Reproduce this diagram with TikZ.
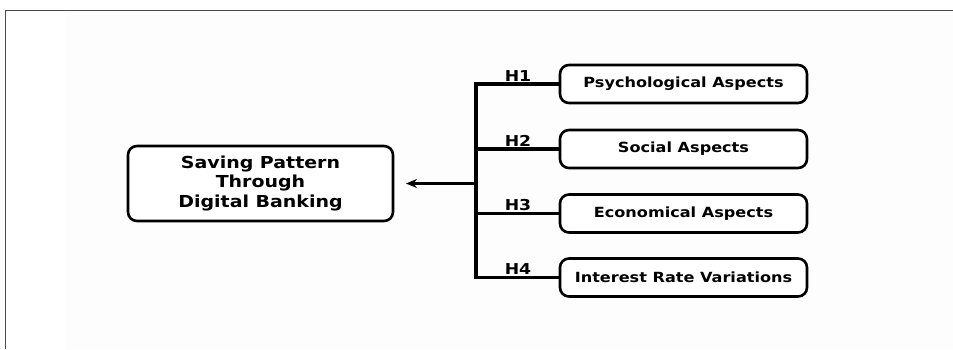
\documentclass[tikz,border=0pt]{standalone}
\usepackage{fontspec}
\setmainfont{DejaVu Sans}
\newfontfamily\widefont[FakeStretch=1.15]{DejaVu Sans}
\usetikzlibrary{arrows.meta}
\tikzset{
  box/.style={draw=black, line width=2.6pt, rounded corners=9pt, fill=white, align=center, inner sep=0pt},
  smallbox/.style={box, minimum width=247pt, minimum height=38pt, font=\widefont\bfseries\fontsize{14}{16}\selectfont},
  conn/.style={line width=3.2pt, black},
  hlab/.style={font=\widefont\bfseries\fontsize{15}{16}\selectfont, anchor=base}
}
\begin{document}
\begin{tikzpicture}[x=1pt,y=-1pt]
\useasboundingbox (0,0) rectangle (953,349);
\fill[black!0.7] (65,11) rectangle (953,349);
\draw[line width=1pt, black!70] (5,349) -- (5,10) -- (953,10);
\node[box, minimum width=265pt, minimum height=75pt, font=\widefont\bfseries\fontsize{16.5}{19.5}\selectfont] (main) at (260.5,183.5) {Saving Pattern\\Through\\Digital Banking};
\node[smallbox] (h1) at (683.5,84) {Psychological Aspects};
\node[smallbox] (h2) at (683.5,149) {Social Aspects};
\node[smallbox] (h3) at (683.5,213.5) {Economical Aspects};
\node[smallbox] (h4) at (683.5,277.5) {Interest Rate Variations};
\coordinate (top) at (476,84);
\coordinate (bot) at (476,277.5);
\coordinate (mid) at (476,183.5);
\draw[conn, line join=miter] (h1.west) -- (top) -- (bot) -- (h4.west);
\draw[conn] (h2.west) -- (h2.west -| top);
\draw[conn] (h3.west) -- (h3.west -| top);
\draw[conn, -{Stealth[length=11pt,width=9pt]}] (mid) -- (406,183.5);
\node[hlab] at (518,81) {H1};
\node[hlab] at (518,146) {H2};
\node[hlab] at (518,210.5) {H3};
\node[hlab] at (518,274.5) {H4};
\end{tikzpicture}
\end{document}
